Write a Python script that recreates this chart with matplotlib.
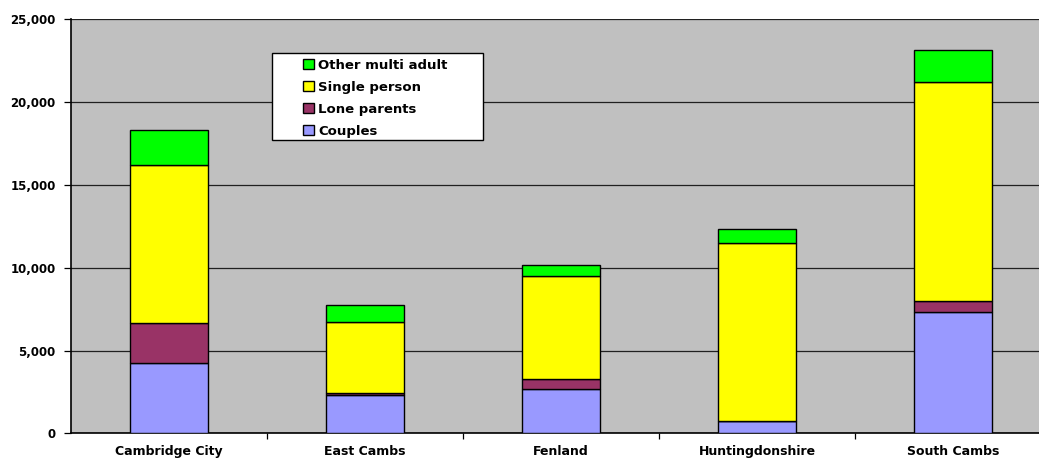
import matplotlib
matplotlib.use("Agg")
import matplotlib.pyplot as plt
from matplotlib.patches import Rectangle, Patch
import numpy as np

districts = ["Cambridge City", "East Cambs", "Fenland", "Huntingdonshire", "South Cambs"]
couples = [4265, 2295, 2695, 760, 7325]
lone_parents = [2400, 155, 585, 0, 665]
single_person = [9540, 4250, 6200, 10730, 13245]
other_multi_adult = [2130, 1030, 665, 845, 1930]

series = [
    ("Couples", couples, "#9999FF"),
    ("Lone parents", lone_parents, "#993366"),
    ("Single person", single_person, "#FFFF00"),
    ("Other multi adult", other_multi_adult, "#00FF00"),
]

W, H = 1039, 458
fig = plt.figure(figsize=(W / 100, H / 100), dpi=100)
fig.patch.set_facecolor("white")
ax = fig.add_axes([71 / W, (H - 433.3) / H, 980 / W, 414 / H])
ax.set_facecolor("#C0C0C0")

x = np.arange(len(districts))
bottom = np.zeros(len(districts))
handles = []
for name, vals, col in series:
    vals = np.array(vals, dtype=float)
    ax.bar(x, vals, width=0.4, bottom=bottom, color=col, edgecolor="black",
           linewidth=1.0, zorder=3)
    bottom += vals
    handles.append(Patch(facecolor=col, edgecolor="black", linewidth=1.0, label=name))

ax.set_xlim(-0.5, len(districts) - 0.5)
ax.set_ylim(0, 25000)
ax.set_yticks(np.arange(0, 25001, 5000))
ax.set_yticklabels([f"{v:,}" for v in range(0, 25001, 5000)],
                   fontsize=8.5, fontweight="bold", family="DejaVu Sans")
ax.yaxis.grid(True, color="#202020", linewidth=0.9, zorder=1)
ax.set_axisbelow(True)

ax.set_xticks(x)
ax.set_xticklabels(districts, fontsize=9, fontweight="bold", family="DejaVu Sans")
ax.set_xticks(np.arange(0.5, len(districts) - 0.5, 1.0), minor=True)
ax.tick_params(axis="x", which="major", length=0, pad=8.5)
ax.tick_params(axis="x", which="minor", length=4, direction="out", width=0.9)
ax.tick_params(axis="y", length=5, direction="out", width=0.9, pad=6)

for side in ("top", "right"):
    ax.spines[side].set_visible(False)
for side in ("left", "bottom"):
    ax.spines[side].set_linewidth(1.2)
    ax.spines[side].set_color("black")

# legend box
box = Rectangle((271.7 / W, (H - 140) / H), 211.3 / W, 86.7 / H,
                transform=fig.transFigure, facecolor="white", edgecolor="black",
                linewidth=1.0, zorder=6)
fig.patches.append(box)
leg = fig.legend(handles=handles[::-1], loc="upper left",
                 bbox_to_anchor=(296 / W, (H - 52) / H),
                 frameon=False, borderpad=0, handlelength=0.85, handleheight=0.85,
                 handletextpad=0.35, labelspacing=0.68,
                 prop={"family": "DejaVu Sans", "weight": "bold", "size": 9.5})
leg.set_zorder(7)

fig.savefig("out.png", dpi=100)
